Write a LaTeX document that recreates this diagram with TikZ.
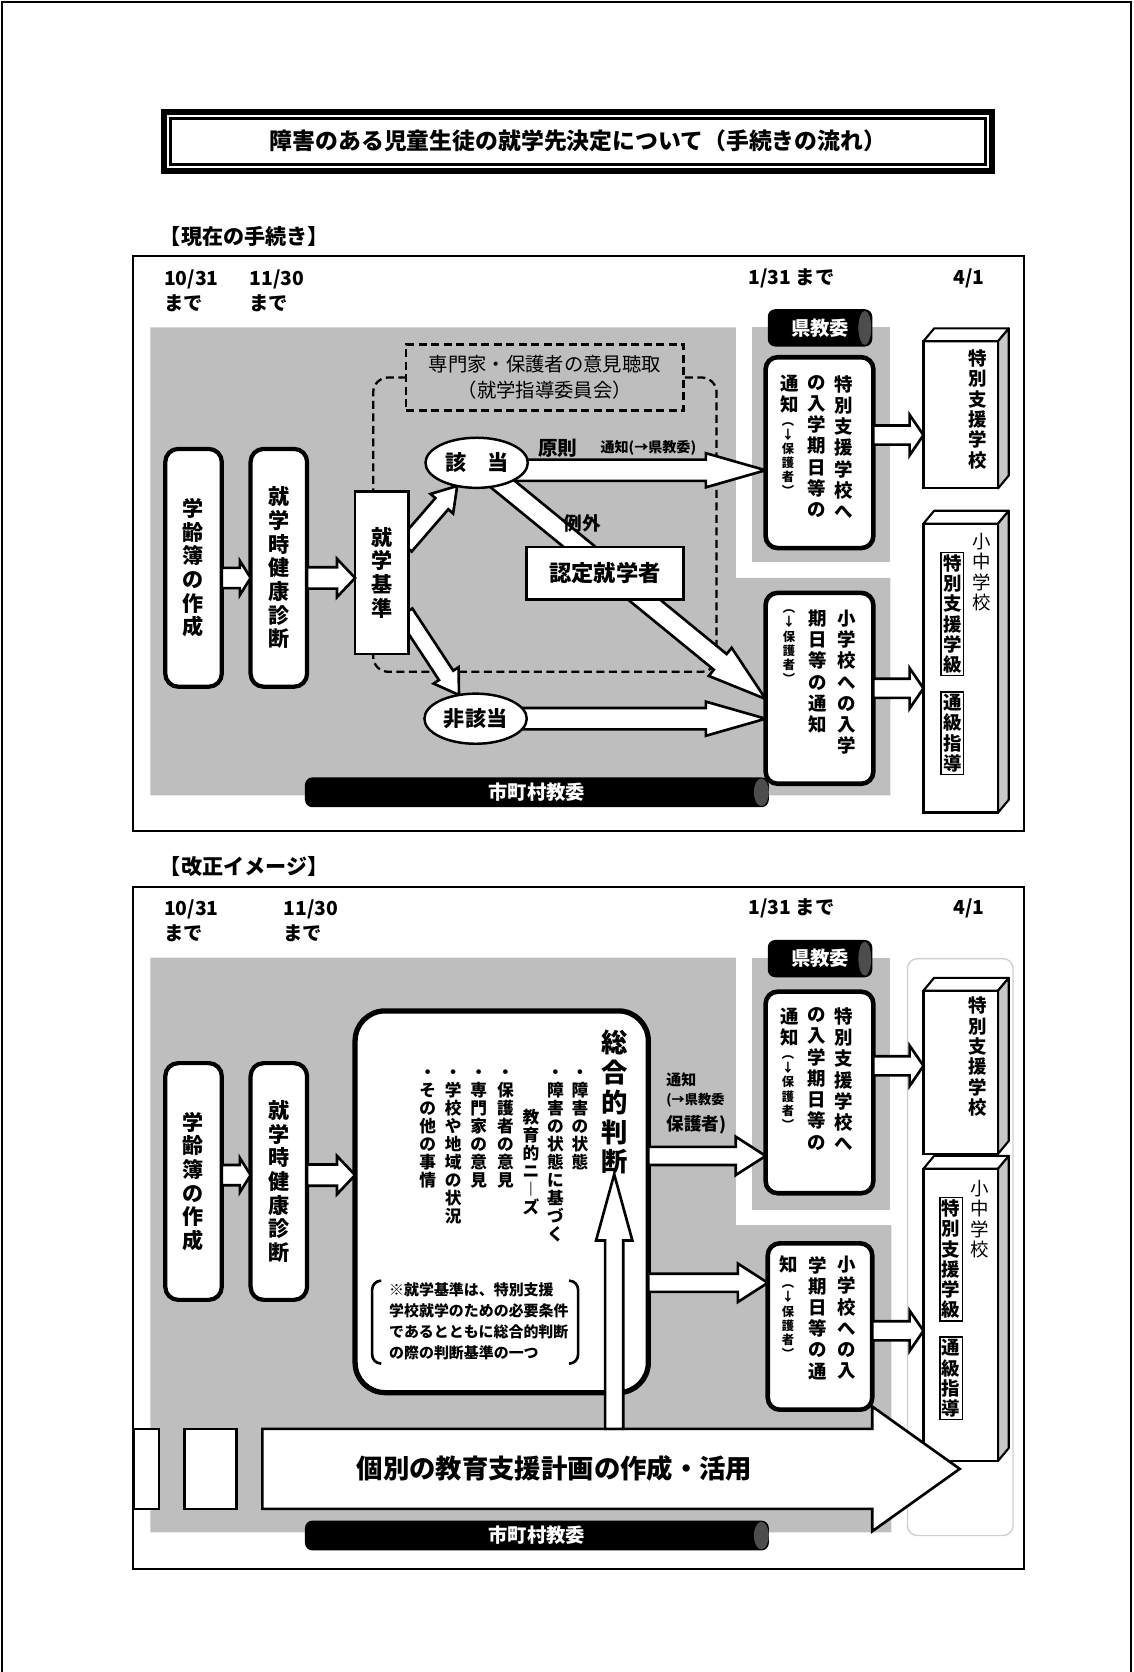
\documentclass[tikz,border=0pt]{standalone}
\usepackage{fontspec}
\setmainfont{Noto Sans CJK JP}
\usetikzlibrary{shapes.geometric,calc}
\pgfdeclarelayer{bg}
\pgfdeclarelayer{under}
\pgfsetlayers{bg,under,main}
\definecolor{bggray}{HTML}{BEBEBE}
\definecolor{sidegray}{HTML}{C8C8C8}
\definecolor{capgray}{HTML}{4D4D4D}
\definecolor{framegray}{HTML}{CFCFCF}
\newcommand\pxu{0.2132mm}
% vertical text, one character per line
\ExplSyntaxOn
\NewDocumentCommand\tate{O{1.12}m}
  {
    \vtop
      {
        \baselineskip=#1em
        \lineskiplimit=-\maxdimen
        \tl_map_inline:nn {#2} { \hbox_to_wd:nn {1em} { \hss ##1 \hss } }
      }
  }
\ExplSyntaxOff
% hollow block arrow: [opts]{from}{to}{shaft}{head}{head length}
\newcommand\blockarrow[6][]{%
  \draw[barrow,#1]
    ($(#2)!#4*\pxu!90:(#3)$) --
    ($($(#3)!#6*\pxu!(#2)$)!#4*\pxu!-90:(#2)$) --
    ($($(#3)!#6*\pxu!(#2)$)!#5*\pxu!-90:(#2)$) --
    (#3) --
    ($($(#3)!#6*\pxu!(#2)$)!#5*\pxu!90:(#2)$) --
    ($($(#3)!#6*\pxu!(#2)$)!#4*\pxu!90:(#2)$) --
    ($(#2)!#4*\pxu!-90:(#3)$) -- cycle;}
% top and side of a school block
\newcommand\boxfaces[1]{%
  \draw[face3d,fill=white] (#1.north west) -- ++(10,-12) -- ($(#1.north east)+(10,-12)$) -- (#1.north east) -- cycle;
  \draw[face3d,fill=sidegray] (#1.north east) -- ++(10,-12) -- ($(#1.south east)+(10,-12)$) -- (#1.south east) -- cycle;}

\begin{document}
\begin{tikzpicture}[x=0.2132mm,y=-0.2132mm,
    every node/.style={inner sep=0pt,outer sep=0pt},
    sz/.style 2 args={minimum width=#1*\pxu,minimum height=#2*\pxu},
    flowbox/.style={draw,fill=white,line width=2.4pt,rounded corners=2.6mm,font=\bfseries\fontsize{12}{14}\selectfont},
    notebox/.style={draw,fill=white,line width=2.6pt,rounded corners=2.4mm},
    thinbox/.style={draw,fill=white,line width=1.3pt},
    oval/.style={ellipse,draw,fill=white,line width=1.4pt,sz={96}{47},font=\bfseries\fontsize{12}{14}\selectfont},
    pill/.style={fill=black,rounded corners=1.5mm,text=white,font=\bfseries\fontsize{11}{13}\selectfont},
    front3d/.style={draw,fill=white,line width=1.2pt,sz={70}{#1}},
    face3d/.style={draw,line width=1.2pt,line join=round},
    colmid/.style={anchor=north,font=\bfseries\fontsize{10.5}{12}\selectfont},
    colsmall/.style={anchor=north,font=\bfseries\fontsize{7}{8}\selectfont},
    col3d/.style={anchor=north,font=\bfseries\fontsize{10.5}{12}\selectfont},
    colbul/.style={anchor=north,font=\bfseries\fontsize{9.5}{11}\selectfont},
    datelbl/.style={align=left,font=\bfseries\fontsize{11}{14}\selectfont},
    barrow/.style={draw,fill=white,line width=1.5pt,line join=miter,miter limit=10},
    dashline/.style={line width=1.3pt,dash pattern=on 1.6mm off 0.9mm}]
  \useasboundingbox (0,0) rectangle (1063,1568);
  \draw[line width=1.2pt] (2,1568) -- (2,2) -- (1061,2) -- (1061,1568);

  % title
  \node[draw,fill=white,line width=3.4pt,sz={776}{55},font=\bfseries\fontsize{13}{15}\selectfont] (title) at (542,132.5) {障害のある児童生徒の就学先決定について（手続きの流れ）};
  \draw[line width=1.6pt] ($(title.north west)+(6,6)$) rectangle ($(title.south east)+(-6,-6)$);

  % ---------- current procedure ----------
  \node[anchor=west,font=\bfseries\fontsize{12}{14}\selectfont] (label1) at (150,222) {【現在の手続き】};
  \draw[line width=1.2pt] (125,240) rectangle (960,779);
  \begin{pgfonlayer}{bg}
    \fill[bggray] (141,307) -- (690,307) -- (690,542) -- (835,542) -- (835,746) -- (141,746) -- cycle;
    \fill[bggray] (705,307) rectangle (835,527);
  \end{pgfonlayer}
  \node[datelbl,anchor=north west] (d1a) at (154,253) {10/31\\まで};
  \node[datelbl,anchor=north west] (d1b) at (234,253) {11/30\\まで};
  \node[datelbl,anchor=west] (d1c) at (702,261) {1/31 まで};
  \node[datelbl,anchor=west] (d1d) at (894,261) {4/1};

  \node[flowbox,sz={53}{223}] (gakurei1) at (181.5,532.5) {\tate{学齢簿の作成}};
  \node[flowbox,sz={53}{223}] (kenshin1) at (261.5,532.5) {\tate{就学時健康診断}};
  \node[thinbox,sz={50}{152},font=\bfseries\fontsize{12}{14}\selectfont] (kijun1) at (358,537) {\tate{就学基準}};

  \node[draw,dashline,sz={260}{62},align=center,font=\fontsize{11}{14.5}\selectfont] (iken1) at (511,354) {専門家・保護者の意見聴取\\（就学指導委員会）};
  \begin{pgfonlayer}{bg}
    \draw[dashline,rounded corners=3mm] (iken1.west) -| (350,630) -| (672,354) -- (iken1.east);
  \end{pgfonlayer}

  \node[oval] (gaito1) at (447,434) {該　当};
  \node[oval] (higaito1) at (446,674) {非該当};
  \node[thinbox,line width=1.6pt,sz={147}{49},font=\bfseries\fontsize{12.7}{15}\selectfont] (nintei1) at (567.5,537.5) {認定就学者};
  \node[font=\bfseries\fontsize{11.2}{13}\selectfont] (gensoku1) at (523,420) {原則};
  \node[font=\bfseries\fontsize{8}{10}\selectfont] (tsuchi1) at (608,420) {通知(→県教委)};
  \node[font=\bfseries\fontsize{10.6}{12}\selectfont] (reigai1) at (546,491) {例外};

  \node[pill,sz={98}{35}] (kenkyoi1) at (769,307.5) {県教委};
  \fill[capgray] ($(kenkyoi1.east)+(-7,0)$) ellipse [x radius=6*\pxu,y radius=16*\pxu];
  \node[notebox,sz={101}{179}] (tokushi1) at (768.5,424.5) {};
  \node[colmid] (t1a) at (791,352) {\tate[1.15]{特別支援学校へ}};
  \node[colmid] (t1b) at (766,352) {\tate[1.15]{の入学期日等の}};
  \node[colmid] (t1c) at (741,352) {\tate[1.15]{通知}};
  \node[colsmall] (t1d) at (739,396) {\tate[1.15]{︵↓保護者︶}};
  \node[notebox,sz={101}{179}] (shonotice1) at (768.5,645.5) {};
  \node[colmid] (s1a) at (794,572) {\tate[1.15]{小学校への入学}};
  \node[colmid] (s1b) at (767,572) {\tate[1.15]{期日等の通知}};
  \node[colsmall] (s1c) at (740,572) {\tate[1.15]{︵↓保護者︶}};

  \node[pill,sz={435}{28}] (shicho1) at (503.5,743) {市町村教委};
  \fill[capgray] ($(shicho1.east)+(-7,0)$) ellipse [x radius=7*\pxu,y radius=13*\pxu];

  \node[front3d=138] (tok3d1) at (901,389) {};
  \boxfaces{tok3d1}
  \node[col3d] (tok3d1t) at (917,328) {\tate[1.1]{特別支援学校}};
  \node[front3d=271] (shochu3d1) at (901,626.5) {};
  \boxfaces{shochu3d1}
  \node[col3d,font=\fontsize{10.5}{12}\selectfont] (shochu3d1t) at (921,500) {\tate[1.1]{小中学校}};
  \node[col3d,draw,line width=0.8pt,inner sep=1.2pt] (tokkyu1) at (893,518) {\tate[1.1]{特別支援学級}};
  \node[col3d,draw,line width=0.8pt,inner sep=1.2pt] (tsukyu1) at (893,649) {\tate[1.1]{通級指導}};

  \begin{pgfonlayer}{under}
    \blockarrow{$(kijun1.east)+(-3,-25)$}{gaito1.-130}{8}{14}{22}
    \blockarrow{$(kijun1.east)+(-3,38)$}{higaito1.125}{8}{14}{22}
    \coordinate (g1) at ($(gaito1.center)+(0,7)$);
    \blockarrow{g1}{g1 -| tokushi1.west}{10}{16}{56}
    \blockarrow{gaito1.center}{$(shonotice1.west)+(0,10)$}{9.5}{17}{55}
    \blockarrow{higaito1.center}{higaito1.center -| shonotice1.west}{10}{16}{56}
  \end{pgfonlayer}
  \coordinate (gk1) at ($(gakurei1.east)+(0,9.5)$);
  \blockarrow{gk1}{gk1 -| kenshin1.west}{9.5}{16}{10}
  \coordinate (kk1) at ($(kenshin1.east)+(0,9.5)$);
  \blockarrow{kk1}{kk1 -| kijun1.west}{10}{18}{17}
  \coordinate (tt1) at ($(tokushi1.east)+(0,-16.5)$);
  \blockarrow{tt1}{tt1 -| tok3d1.west}{9}{19}{13}
  \blockarrow{shonotice1.east}{shonotice1.east -| shochu3d1.west}{9}{19}{13}

  % ---------- revised image ----------
  \node[anchor=west,font=\bfseries\fontsize{12}{14}\selectfont] (label2) at (150,813) {【改正イメージ】};
  \draw[line width=1.2pt] (125,832) rectangle (960,1471);
  \begin{pgfonlayer}{bg}
    \fill[bggray] (141,898) -- (690,898) -- (690,1149) -- (836,1149) -- (836,1437) -- (141,1437) -- cycle;
    \fill[bggray] (705,898) rectangle (835,1135);
  \end{pgfonlayer}
  \node[datelbl,anchor=north west] (d2a) at (154,844) {10/31\\まで};
  \node[datelbl,anchor=north west] (d2b) at (266,844) {11/30\\まで};
  \node[datelbl,anchor=west] (d2c) at (702,852) {1/31 まで};
  \node[datelbl,anchor=west] (d2d) at (894,852) {4/1};
  \draw[framegray,line width=0.8pt,rounded corners=2mm] (851,899) rectangle (950,1440);

  \node[flowbox,sz={53}{222}] (gakurei2) at (181.5,1108) {\tate{学齢簿の作成}};
  \node[flowbox,sz={53}{222}] (kenshin2) at (261.5,1108) {\tate{就学時健康診断}};

  \node[draw,fill=white,line width=3pt,rounded corners=6mm,sz={275}{358}] (sogo2) at (470.5,1127) {};
  \node[anchor=north,font=\bfseries\fontsize{15}{17}\selectfont] (hantext2) at (576,966) {\tate[1.13]{総合的判断}};
  \node[colbul] (c1) at (544,1003) {\tate[1.08]{・障害の状態}};
  \node[colbul] (c2) at (521,1003) {\tate[1.08]{・障害の状態に基づく}};
  \node[colbul] (c3) at (498,1040) {\tate[1.08]{教育的ニ︱ズ}};
  \node[colbul] (c4) at (474,1003) {\tate[1.08]{・保護者の意見}};
  \node[colbul] (c5) at (449,1003) {\tate[1.08]{・専門家の意見}};
  \node[colbul] (c6) at (425,1003) {\tate[1.08]{・学校や地域の状況}};
  \node[colbul] (c7) at (401,1003) {\tate[1.08]{・その他の事情}};
  \node[anchor=north west,align=left,font=\bfseries\fontsize{8.5}{12}\selectfont] (note2) at (365,1203) {※就学基準は、特別支援\\学校就学のための必要条件\\であるとともに総合的判断\\の際の判断基準の一つ};
  \draw[line width=1.5pt,rounded corners=1.8mm] ($(note2.north west)+(-8,-2)$) -- ($(note2.north west)+(-16,-2)$) -- ($(note2.south west)+(-16,3)$) -- ($(note2.south west)+(-8,3)$);
  \draw[line width=1.5pt,rounded corners=1.8mm] ($(note2.north east)+(1,-2)$) -- ($(note2.north east)+(9,-2)$) -- ($(note2.south east)+(9,3)$) -- ($(note2.south east)+(1,3)$);

  \node[font=\bfseries\fontsize{8.5}{10}\selectfont,anchor=west] (tsuchi2a) at (625,1013) {通知};
  \node[font=\bfseries\fontsize{7.5}{9}\selectfont,anchor=west] (tsuchi2b) at (625,1032) {(→県教委};
  \node[font=\bfseries\fontsize{10}{12}\selectfont,anchor=west] (tsuchi2c) at (625,1055) {保護者)};

  \node[pill,sz={98}{35}] (kenkyoi2) at (769,899) {県教委};
  \fill[capgray] ($(kenkyoi2.east)+(-7,0)$) ellipse [x radius=6*\pxu,y radius=16*\pxu];
  \node[notebox,sz={101}{189}] (tokushi2) at (768.5,1024.5) {};
  \node[colmid] (t2a) at (791,945) {\tate[1.15]{特別支援学校へ}};
  \node[colmid] (t2b) at (766,945) {\tate[1.15]{の入学期日等の}};
  \node[colmid] (t2c) at (741,945) {\tate[1.15]{通知}};
  \node[colsmall] (t2d) at (739,990) {\tate[1.15]{︵↓保護者︶}};
  \node[notebox,sz={98}{156}] (shonotice2) at (769,1244) {};
  \node[colmid] (s2a) at (794,1178) {\tate[1.15]{小学校への入}};
  \node[colmid] (s2b) at (767,1178) {\tate[1.15]{学期日等の通}};
  \node[colmid] (s2c) at (740,1178) {\tate[1.15]{知}};
  \node[colsmall] (s2d) at (739,1205) {\tate[1.15]{︵↓保護者︶}};

  \node[pill,sz={435}{28}] (shicho2) at (503.5,1440) {市町村教委};
  \fill[capgray] ($(shicho2.east)+(-7,0)$) ellipse [x radius=7*\pxu,y radius=13*\pxu];

  \node[front3d=153] (tok3d2) at (901,1005.5) {};
  \boxfaces{tok3d2}
  \node[col3d] (tok3d2t) at (917,935) {\tate[1.1]{特別支援学校}};
  \node[front3d=274] (shochu3d2) at (901,1233) {};
  \boxfaces{shochu3d2}
  \node[col3d,font=\fontsize{10.5}{12}\selectfont] (shochu3d2t) at (919,1107) {\tate[1.1]{小中学校}};
  \node[col3d,draw,line width=0.8pt,inner sep=1.2pt] (tokkyu2) at (892,1123) {\tate[1.1]{特別支援学級}};
  \node[col3d,draw,line width=0.8pt,inner sep=1.2pt] (tsukyu2) at (892,1254) {\tate[1.1]{通級指導}};

  \node[thinbox,line width=1.5pt,sz={24}{75}] (blank1) at (137,1377.5) {};
  \node[thinbox,line width=1.5pt,sz={49}{75}] (blank2) at (197.5,1377.5) {};
  \coordinate (planS) at (246,1377.5);
  \coordinate (planE) at (900,1377.5);
  \blockarrow{planS}{planE}{37.5}{58.5}{82}
  \node[font=\bfseries\fontsize{15}{17}\selectfont] (plantext) at (520,1377.5) {個別の教育支援計画の作成・活用};

  \coordinate (up0) at (576,1340);
  \blockarrow{up0}{up0 |- hantext2.south}{8.5}{17}{62}
  \coordinate (gk2) at ($(gakurei2.east)+(0,-6)$);
  \blockarrow{gk2}{gk2 -| kenshin2.west}{9.5}{16}{10}
  \coordinate (kk2) at ($(kenshin2.east)+(0,-6)$);
  \blockarrow{kk2}{kk2 -| sogo2.west}{10}{18}{17}
  \coordinate (st2) at ($(sogo2.east)+(0,-43)$);
  \blockarrow{st2}{st2 -| tokushi2.west}{8.5}{18}{28}
  \coordinate (ss2) at ($(sogo2.east)+(0,76)$);
  \blockarrow{ss2}{ss2 -| shonotice2.west}{8.5}{18}{28}
  \coordinate (tt2) at ($(tokushi2.east)+(0,-25)$);
  \blockarrow{tt2}{tt2 -| tok3d2.west}{9}{19}{13}
  \coordinate (sn2) at ($(shonotice2.east)+(0,4)$);
  \blockarrow{sn2}{sn2 -| shochu3d2.west}{9}{19}{13}
\end{tikzpicture}
\end{document}
